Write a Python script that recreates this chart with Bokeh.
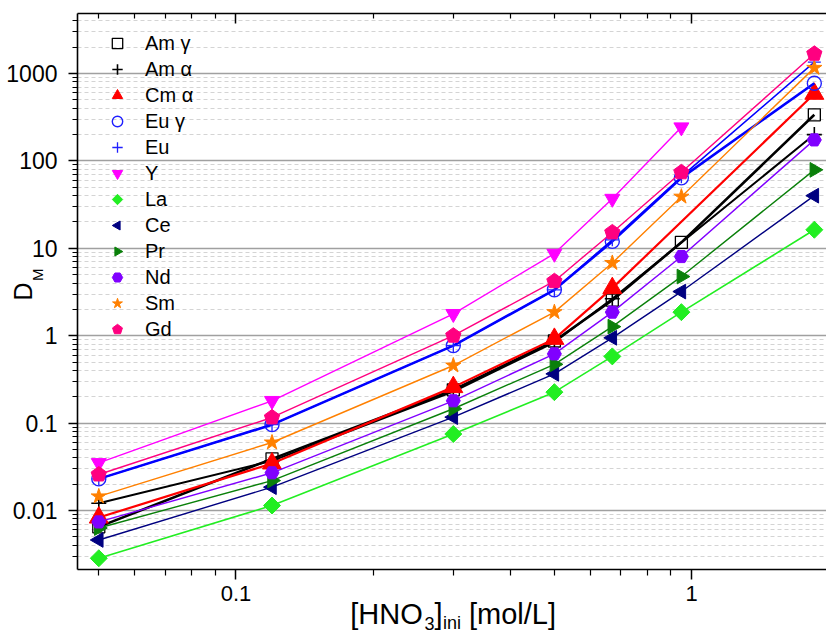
import math

from bokeh.embed import file_html
from bokeh.models import (ColumnDataSource, CustomJSTickFormatter, FixedTicker, Legend,
                          LegendItem, LinearAxis, LinearScale, LogAxis, LogTicker, Range1d)
from bokeh.plotting import figure
from bokeh.resources import INLINE

try:
    from bokeh.models import Ngon
    HAVE_NGON = True
except ImportError:
    HAVE_NGON = False

# Initial nitric acid concentration [mol/L]
hno3 = [0.05, 0.12, 0.3, 0.5, 0.67, 0.95, 1.86]

# Distribution ratios D_M (None = not measured)
am_gamma = [0.0065, 0.039, 0.24, 0.87, 2.55, 11.7, 337]
am_alpha = [0.0121, 0.037, 0.23, 0.84, 2.65, None, 200]
cm_alpha = [0.0083, 0.0345, 0.258, 0.92, 3.5, None, 586]
eu_gamma = [0.023, 0.096, 0.77, 3.35, 12.0, 64, 775]
eu = [0.023, 0.096, 0.77, 3.35, 12.5, 66, 1350]
y_el = [0.035, 0.18, 1.78, 8.7, 37, 243, None]
la = [0.00284, 0.0114, 0.075, 0.226, 0.58, 1.86, 16.3]
ce = [0.0046, 0.0185, 0.117, 0.366, 0.946, 3.2, 40]
pr = [0.0063, 0.022, 0.146, 0.47, 1.27, 4.75, 79]
nd = [0.0074, 0.027, 0.18, 0.62, 1.86, 8.05, 174]
sm = [0.0145, 0.060, 0.456, 1.86, 6.8, 39, 1160]
gd = [0.0258, 0.116, 1.0, 4.2, 15.2, 74, 1680]

# x axis tick positions
x_major_ticks = [0.1, 1]
x_minor_ticks = [0.05, 0.06, 0.07, 0.08, 0.09, 0.2, 0.3, 0.4, 0.5, 0.6, 0.7, 0.8, 0.9, 2]

FONT = "Liberation Sans"

# frame placement on the canvas (pixels)
FL, FR, FT, FB = 77, 826, 13, 569

p = figure(
    width=826, height=635,
    x_axis_type="log", y_axis_type="log",
    x_range=Range1d(0.0449, 1.978), y_range=Range1d(0.002113, 4860),
    output_backend="svg", toolbar_location=None,
    min_border_left=FL, min_border_right=826 - FR, min_border_top=FT, min_border_bottom=635 - FB,
)
p.outline_line_color = None
p.background_fill_color = "white"

# pixel-valued helper ranges (linear), used only to place the pieces of the axis titles
p.extra_x_ranges = {"px": Range1d(FL, FR)}
p.extra_y_ranges = {"py": Range1d(FB, FT)}
p.extra_x_scales = {"px": LinearScale()}
p.extra_y_scales = {"py": LinearScale()}

# grid: solid major, dashed minor, horizontal only
p.xgrid.grid_line_color = None
p.ygrid.grid_line_color = "#a0a0a0"
p.ygrid.grid_line_width = 1.6
p.ygrid.minor_grid_line_color = "#d4d4d4"
p.ygrid.minor_grid_line_dash = "4 3"
p.ygrid.minor_grid_line_width = 1

ytick = LogTicker(num_minor_ticks=10)
p.ygrid.ticker = ytick
fmt = CustomJSTickFormatter(code="return parseFloat(tick.toPrecision(4)).toString();")

# bottom axis: line, outward ticks, labels 0.1 / 1
xa = p.xaxis[0]
xa.ticker = FixedTicker(ticks=x_major_ticks, minor_ticks=x_minor_ticks)
xa.formatter = fmt
xa.axis_line_width = 1.6
xa.major_tick_line_width = 1.5
xa.minor_tick_line_width = 1.2
xa.major_tick_in = 0
xa.minor_tick_in = 0
xa.major_tick_out = 10
xa.minor_tick_out = 6
xa.major_label_standoff = 6
xa.major_label_text_font = FONT
xa.major_label_text_font_size = "22px"
xa.major_label_text_color = "black"

# left axis: line and outward ticks only; its numbers come from a separate label axis
ya = p.yaxis[0]
ya.ticker = ytick
ya.formatter = CustomJSTickFormatter(code="return '';")
ya.major_label_text_color = None
ya.major_label_standoff = 0
ya.axis_line_width = 1.6
ya.major_tick_line_width = 1.5
ya.minor_tick_line_width = 1.2
ya.major_tick_in = 0
ya.minor_tick_in = 0
ya.major_tick_out = 9
ya.minor_tick_out = 5

# top axis: inward ticks, no labels
top = LogAxis(
    ticker=FixedTicker(ticks=x_major_ticks, minor_ticks=x_minor_ticks),
    major_label_text_color=None, major_label_text_font_size="8px", major_label_standoff=0,
    major_tick_in=10, major_tick_out=0, minor_tick_in=5, minor_tick_out=0,
    axis_line_width=1.6, major_tick_line_width=1.5, minor_tick_line_width=1.2,
)
p.add_layout(top, "above")

BARE = dict(
    axis_line_color=None, major_tick_line_color=None, minor_tick_line_color=None,
    major_tick_in=0, major_tick_out=0, minor_tick_in=0, minor_tick_out=0,
    major_label_text_font=FONT, major_label_text_color="black",
    axis_label_text_font=FONT, axis_label_text_color="black", axis_label_text_font_style="normal",
)


def piece_axis(cls, pieces, size, standoff, **kw):
    """Bare axis whose tick labels spell out pieces of an axis title."""
    ticks = [pos for pos, _ in pieces]
    return cls(ticker=FixedTicker(ticks=ticks, minor_ticks=[]),
               major_label_overrides={pos: txt for pos, txt in pieces},
               major_label_text_font_size=size, major_label_standoff=standoff,
               **BARE, **kw)


# --- y axis title "D" with subscript "M", and the y tick numbers ---
m_axis = piece_axis(LinearAxis, [(268, "M")], "15px", 31,
                    y_range_name="py", major_label_orientation=math.pi / 2)
p.add_layout(m_axis, "left")

num_axis = LogAxis(ticker=ytick, formatter=fmt,
                   major_label_text_font_size="23px", major_label_standoff=-40,
                   axis_label="D", axis_label_text_font_size="25px", axis_label_standoff=-34,
                   **BARE)
p.add_layout(num_axis, "left")

# --- x axis title "[HNO3]ini [mol/L]" ---
big_axis = piece_axis(LinearAxis, [(386, "[HNO"), (438, "]"), (512, "[mol/L]")], "29px", -6,
                      x_range_name="px")
p.add_layout(big_axis, "below")

sub_axis = piece_axis(LinearAxis, [(429, "3")], "18px", -16, x_range_name="px",
                      axis_label="ini", axis_label_text_font_size="18px", axis_label_standoff=-20)
p.add_layout(sub_axis, "below")


def clean(vals):
    xs = [x for x, v in zip(hno3, vals) if v is not None]
    ys = [v for v in vals if v is not None]
    return xs, ys


def ngon_or_marker(src, n, radius, angle, color, fallback):
    if HAVE_NGON:
        return p.add_glyph(src, Ngon(x="x", y="y", n=n, radius=radius, radius_units="screen",
                                     angle=angle, fill_color=color, line_color=color))
    return p.scatter("x", "y", source=src, marker=fallback, size=2 * radius,
                     fill_color=color, line_color=color)


series = [
    ("Am \u03b3", am_gamma, "black", 2.6, dict(marker="square", size=12, fill_color=None, line_color="black", line_width=1.3)),
    ("Am \u03b1", am_alpha, "black", 2.0, dict(marker="cross", size=15, line_color="black", line_width=1.6)),
    ("Cm \u03b1", cm_alpha, "#ff0000", 2.2, dict(marker="triangle", size=19, fill_color="#ff0000", line_color="#ff0000")),
    ("Eu \u03b3", eu_gamma, "#0000ff", 2.6, dict(marker="circle", size=14, fill_color=None, line_color="#2020ff", line_width=1.4)),
    ("Eu", eu, "#0000ff", 1.5, dict(marker="cross", size=13, line_color="#2020ff", line_width=1.3)),
    ("Y", y_el, "#ff00ff", 1.4, dict(marker="inverted_triangle", size=15, fill_color="#ff00ff", line_color="#ff00ff")),
    ("La", la, "#22ee22", 1.6, ("ngon", 4, 8.5, 0.0, "diamond")),
    ("Ce", ce, "#000080", 1.4, ("ngon", 3, 8.5, math.pi / 2, "triangle")),
    ("Pr", pr, "#0a800a", 1.4, ("ngon", 3, 8.5, -math.pi / 2, "triangle")),
    ("Nd", nd, "#8000ff", 1.4, dict(marker="hex", size=14, fill_color="#8000ff", line_color="#8000ff")),
    ("Sm", sm, "#ff8000", 1.4, dict(marker="star", size=16, fill_color="#ff8000", line_color="#ff8000")),
    ("Gd", gd, "#ff0080", 1.4, ("ngon", 5, 8, 0.0, "hex")),
]

items = []
for name, vals, color, lw, mk in series:
    xs, ys = clean(vals)
    src = ColumnDataSource(dict(x=xs, y=ys))
    p.line("x", "y", source=src, line_color=color, line_width=lw)
    if isinstance(mk, dict):
        r = p.scatter("x", "y", source=src, **mk)
    else:
        _, n, radius, angle, fallback = mk
        r = ngon_or_marker(src, n, radius, angle, color, fallback)
    items.append(LegendItem(label=name, renderers=[r]))

legend = Legend(
    items=items, location="top_left",
    margin=0, padding=17, spacing=0,
    glyph_width=46, glyph_height=26, label_height=20, label_standoff=5,
    label_text_font=FONT, label_text_font_size="20px", label_text_color="black",
    background_fill_alpha=0, border_line_alpha=0,
)
p.add_layout(legend)

open("out.html", "w").write(file_html(p, INLINE))
